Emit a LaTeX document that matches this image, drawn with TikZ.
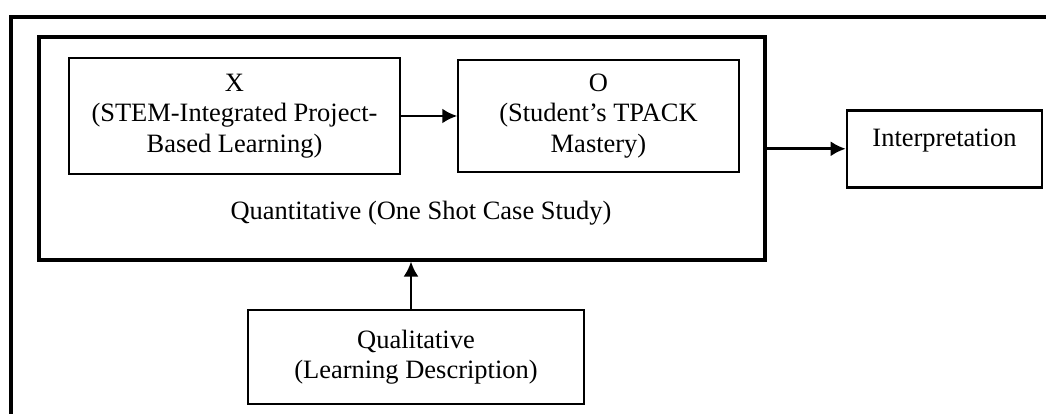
\documentclass[tikz,border=0pt]{standalone}
\usepackage{fontspec}
\setmainfont{Liberation Serif}
\usetikzlibrary{positioning}
\usetikzlibrary{arrows.meta}
\tikzset{every picture/.style={line width=0.64pt},
  every node/.style={font=\fontsize{11.3}{13}\selectfont},
  box/.style={draw, rectangle, align=center, inner sep=0pt},
  bigbox/.style={box, line width=1.3pt},
  flow/.style={-{Latex[length=6.4pt,width=6.4pt]}, line width=1.1pt}}

\begin{document}
\begin{tikzpicture}
\clip (0,0) rectangle (15.69,6.21);
% frame, cut at the page edge
\draw [line width=1.3pt] (0.165,-0.5) -- (0.165,5.955) -- (16.2,5.955);
\node (quant) [bigbox, minimum width=10.89cm, minimum height=3.345cm] at (6.03,3.9825) {};
\node (quantlabel) at (6.315,3.015) {Quantitative (One Shot Case Study)};
\node (x) [box, minimum width=4.965cm, minimum height=1.74cm] at (3.5175,4.47) {X\\(STEM-Integrated Project-\\Based Learning)};
\node (o) [box, right of=x, node distance=5.46cm, minimum width=4.215cm, minimum height=1.68cm] {O\\(Student's TPACK\\Mastery)};
\node (interp) [bigbox, line width=1.1pt, anchor=north, minimum width=2.925cm, text height=0.54cm, text depth=0.615cm] at (14.1675,4.575) {Interpretation};
\node (qual) [box, minimum width=5.04cm, minimum height=1.41cm] at (6.24,0.855) {Qualitative\\(Learning Description)};
\draw [flow] (x) -- (o);
\draw [flow] (interp.west -| quant.east) -- (interp.west);
\draw [flow] ([xshift=-0.075cm]qual.north) -- ([xshift=-0.075cm]qual.north |- quant.south);
\end{tikzpicture}
\end{document}
